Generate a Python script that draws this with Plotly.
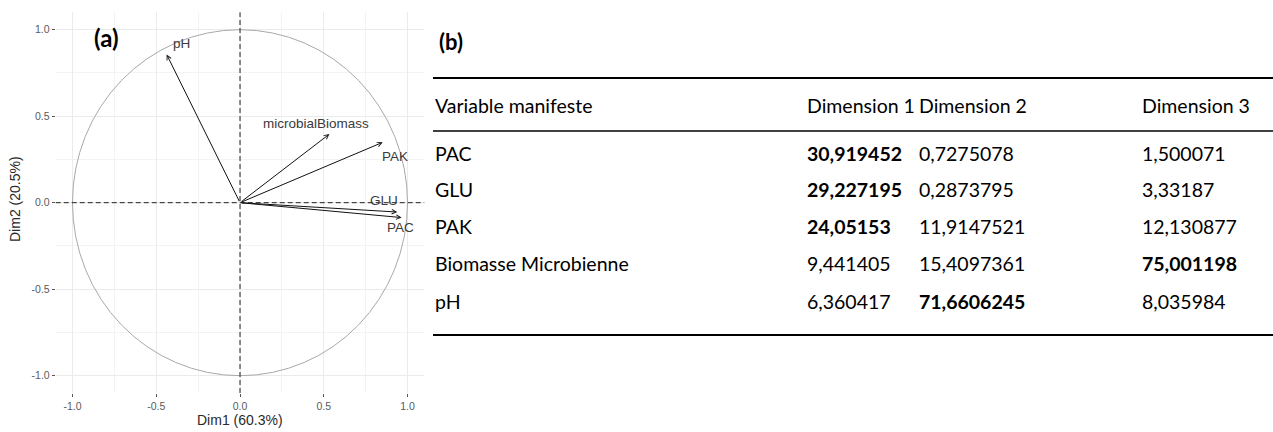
import plotly.graph_objects as go

W, H = 1273, 432

# Variable coordinates on the first two principal components
var_names = ["PAC", "GLU", "PAK", "microbialBiomass", "pH"]
dim1_coord = [0.965, 0.939, 0.852, 0.534, -0.438]
dim2_coord = [-0.086, -0.054, 0.349, 0.397, 0.857]

# Axis ticks
tick_vals = [-1.0, -0.5, 0.0, 0.5, 1.0]
tick_text = ["-1.0", "-0.5", "0.0", "0.5", "1.0"]

# Contribution table (%)
table_header = ["Variable manifeste", "Dimension 1", "Dimension 2", "Dimension 3"]
table_vars = ["PAC", "GLU", "PAK", "Biomasse Microbienne", "pH"]
contrib_dim1 = [30.919452, 29.227195, 24.05153, 9.441405, 6.360417]
contrib_dim2 = [0.7275078, 0.2873795, 11.9147521, 15.4097361, 71.6606245]
contrib_dim3 = [1.500071, 3.33187, 12.130877, 75.001198, 8.035984]

# ---- layout helpers (pixel -> paper) ----
def px(x):
    return x / W

def py(y):
    return 1 - y / H

PLOT_FONT = "Liberation Sans, Arial, sans-serif"
TABLE_FONT = "Lato, Calibri, sans-serif"

fig = go.Figure()

# invisible trace so the axes are drawn
fig.add_trace(go.Scatter(x=dim1_coord, y=dim2_coord, mode="markers",
                         marker=dict(size=1, opacity=0), hoverinfo="skip",
                         showlegend=False))

shapes = []
annotations = []

# correlation circle
shapes.append(dict(type="circle", xref="x", yref="y", x0=-1, y0=-1, x1=1, y1=1,
                   line=dict(color="#a8a8a8", width=1)))
# dashed reference lines through the origin
shapes.append(dict(type="line", xref="x domain", yref="y", x0=0, x1=1, y0=0, y1=0,
                   line=dict(color="#222222", width=1, dash="5px,3px")))
shapes.append(dict(type="line", xref="x", yref="y domain", x0=0, x1=0, y0=0, y1=1,
                   line=dict(color="#222222", width=1, dash="5px,3px")))

# variable arrows from the origin
for cx, cy in zip(dim1_coord, dim2_coord):
    annotations.append(dict(x=cx, y=cy, ax=0, ay=0, xref="x", yref="y",
                            axref="x", ayref="y", text="", showarrow=True,
                            arrowhead=5, arrowsize=0.9, arrowwidth=1,
                            arrowcolor="#111111", standoff=0))

# variable labels, nudged away from the arrow tips
label_dx = [-1, -13, 12, -13, 15]
label_dy = [-10, 12, -14, 11, 11]
for name, cx, cy, dx, dy in zip(var_names, dim1_coord, dim2_coord, label_dx, label_dy):
    annotations.append(dict(x=cx, y=cy, xref="x", yref="y", text=name,
                            showarrow=False, xshift=dx, yshift=dy,
                            font=dict(family=PLOT_FONT, size=13.5, color="#3a3a3a")))

# axis titles
annotations.append(dict(x=px(240), y=py(420), xref="paper", yref="paper",
                        text="Dim1 (60.3%)", showarrow=False,
                        xanchor="center", yanchor="middle",
                        font=dict(family=PLOT_FONT, size=14, color="#2a2a2a")))
annotations.append(dict(x=px(15), y=py(199), xref="paper", yref="paper",
                        text="Dim2 (20.5%)", showarrow=False, textangle=-90,
                        xanchor="center", yanchor="middle",
                        font=dict(family=PLOT_FONT, size=14, color="#2a2a2a")))

# panel tags
annotations.append(dict(x=px(92), y=py(37), xref="paper", yref="paper",
                        text="<b>(a)</b>", showarrow=False,
                        xanchor="left", yanchor="middle",
                        font=dict(family=TABLE_FONT, size=24, color="#000000")))
annotations.append(dict(x=px(437), y=py(42), xref="paper", yref="paper",
                        text="<b>(b)</b>", showarrow=False,
                        xanchor="left", yanchor="middle",
                        font=dict(family=TABLE_FONT, size=22, color="#000000")))

# ---- contribution table ----
col_x = [433, 805, 917, 1140]
header_y = 106
row_y = [153, 189, 226, 263, 301]
rule_top, rule_mid, rule_bot = 78, 131, 335
table_left, table_right = 433, 1273
TABLE_SIZE = 19.5

for rule_y, wdt in [(rule_top, 2), (rule_mid, 1.6), (rule_bot, 2)]:
    shapes.append(dict(type="line", xref="paper", yref="paper",
                       x0=px(table_left), x1=px(table_right),
                       y0=py(rule_y), y1=py(rule_y),
                       line=dict(color="#000000", width=wdt)))

for cx, label in zip(col_x, table_header):
    annotations.append(dict(x=px(cx), y=py(header_y), xref="paper", yref="paper",
                            text=label, showarrow=False,
                            xanchor="left", yanchor="middle",
                            font=dict(family=TABLE_FONT, size=TABLE_SIZE, color="#000000")))

threshold = 100 / len(table_vars)

def fmt(v):
    s = str(v).replace(".", ",")
    return f"<b>{s}</b>" if v > threshold else s

for i, name in enumerate(table_vars):
    cells = [name, fmt(contrib_dim1[i]), fmt(contrib_dim2[i]), fmt(contrib_dim3[i])]
    for cx, txt in zip(col_x, cells):
        annotations.append(dict(x=px(cx), y=py(row_y[i]), xref="paper", yref="paper",
                                text=txt, showarrow=False,
                                xanchor="left", yanchor="middle",
                                font=dict(family=TABLE_FONT, size=TABLE_SIZE, color="#000000")))

axis_common = dict(
    range=[-1.1, 1.1],
    tickvals=tick_vals,
    ticktext=tick_text,
    showgrid=True,
    gridcolor="#ebebeb",
    gridwidth=1,
    zeroline=False,
    showline=False,
    ticks="outside",
    ticklen=3,
    tickcolor="#555555",
    tickfont=dict(family=PLOT_FONT, size=10.5, color="#5a5a5a"),
    minor=dict(tickvals=[-0.75, -0.25, 0.25, 0.75], showgrid=True,
               gridcolor="#f3f3f3", gridwidth=1, ticks=""),
    fixedrange=True,
)

fig.update_layout(
    width=W, height=H,
    margin=dict(l=0, r=0, t=0, b=0),
    paper_bgcolor="white",
    plot_bgcolor="white",
    showlegend=False,
    xaxis=dict(domain=[px(55.75), px(424.25)], **axis_common),
    yaxis=dict(domain=[py(393), py(12.4)], **axis_common),
    shapes=shapes,
    annotations=annotations,
)

fig.write_html("out.html")
